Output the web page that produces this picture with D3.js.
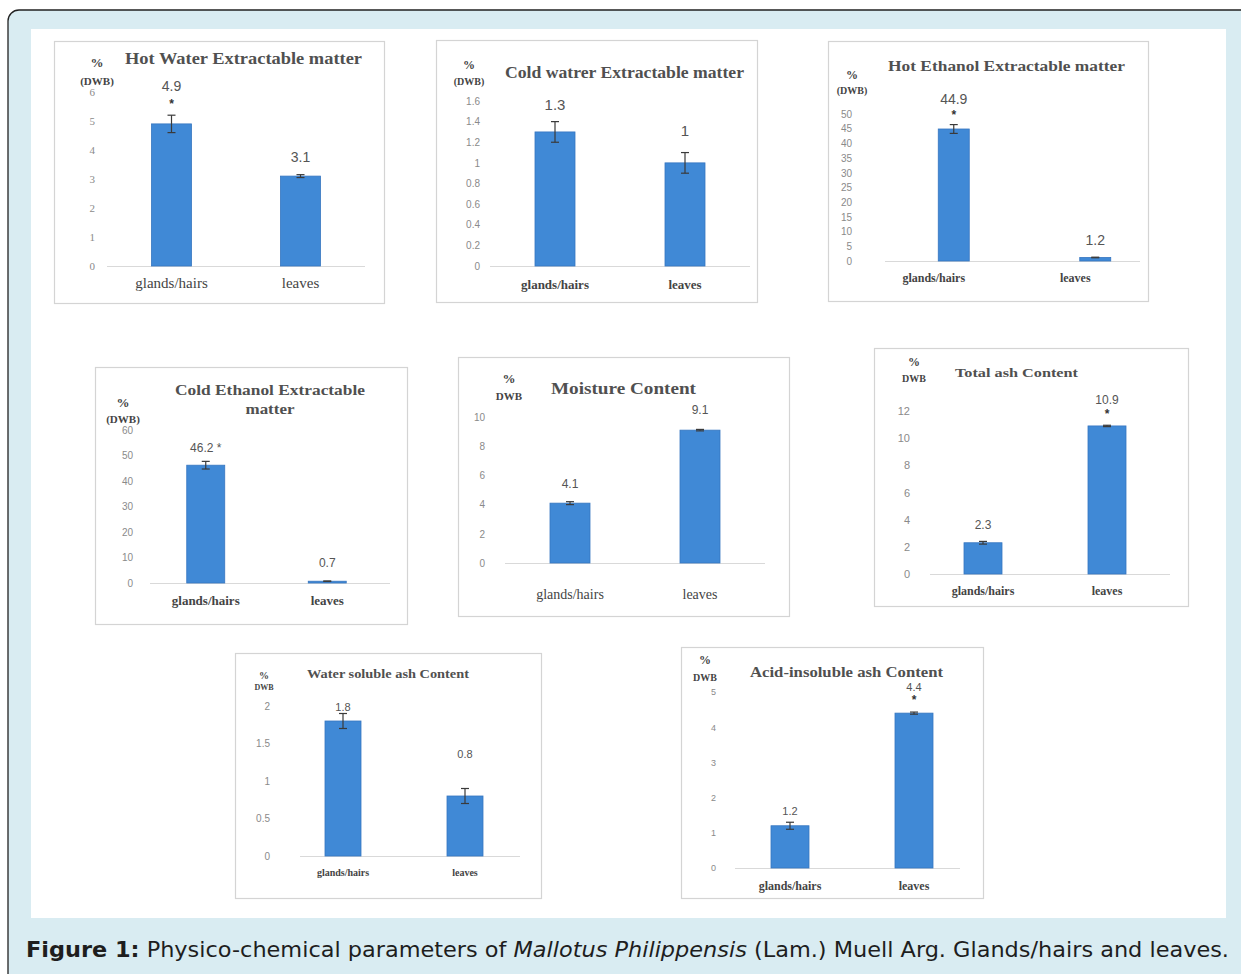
<!DOCTYPE html>
<html>
<head>
<meta charset="utf-8">
<script src="https://cdn.jsdelivr.net/npm/d3@7"></script>
<style>
  html, body { margin: 0; padding: 0; background: #ffffff; }
  svg { display: block; }
</style>
</head>
<body>
<svg id="fig" width="1241" height="974"></svg>
<script>
// ---- data -------------------------------------------------------------
const categories = ["glands/hairs", "leaves"];

const hotWaterValues = [4.9, 3.1];
const hotWaterErrors = [0.3, 0.05];
const hotWaterTicks = [0, 1, 2, 3, 4, 5, 6];

const coldWaterValues = [1.3, 1.0];
const coldWaterErrors = [0.1, 0.1];
const coldWaterTicks = [0, 0.2, 0.4, 0.6, 0.8, 1, 1.2, 1.4, 1.6];

const hotEthanolValues = [44.9, 1.2];
const hotEthanolErrors = [1.5, 0.1];
const hotEthanolTicks = [0, 5, 10, 15, 20, 25, 30, 35, 40, 45, 50];

const coldEthanolValues = [46.2, 0.7];
const coldEthanolErrors = [1.5, 0.1];
const coldEthanolTicks = [0, 10, 20, 30, 40, 50, 60];

const moistureValues = [4.1, 9.1];
const moistureErrors = [0.1, 0.05];
const moistureTicks = [0, 2, 4, 6, 8, 10];

const totalAshValues = [2.3, 10.9];
const totalAshErrors = [0.1, 0.05];
const totalAshTicks = [0, 2, 4, 6, 8, 10, 12];

const waterAshValues = [1.8, 0.8];
const waterAshErrors = [0.1, 0.1];
const waterAshTicks = [0, 0.5, 1, 1.5, 2];

const acidAshValues = [1.2, 4.4];
const acidAshErrors = [0.1, 0.03];
const acidAshTicks = [0, 1, 2, 3, 4, 5];

// value labels above bars ("*" marks significant difference)
const hotWaterLabels = ["4.9", "3.1"];
const coldWaterLabels = ["1.3", "1"];
const hotEthanolLabels = ["44.9", "1.2"];
const coldEthanolLabels = ["46.2 *", "0.7"];
const moistureLabels = ["4.1", "9.1"];
const totalAshLabels = ["2.3", "10.9"];
const waterAshLabels = ["1.8", "0.8"];
const acidAshLabels = ["1.2", "4.4"];

const hotWaterStars = [true, false];
const hotEthanolStars = [true, false];
const totalAshStars = [false, true];
const acidAshStars = [false, true];

// ---- layout of the eight panels ---------------------------------------
const panels = [
  { title: ["Hot Water Extractable matter"], titleX: 125, titleY: [64], titleW: [237], titleSize: 16,
    unitTop: "%", unitBot: "(DWB)", unitX: 97, unitY: [67, 85], unitSize: 11,
    box: [54, 41, 330, 262], y0: 266, y1: 92, axisX: 95, tickSize: 11, tickFont: "Liberation Serif",
    x0: 107, x1: 365, base: [107, 365], barW: 40,
    values: hotWaterValues, errors: hotWaterErrors, ticks: hotWaterTicks,
    labels: hotWaterLabels, stars: hotWaterStars, labelSize: 14, labelY: [91, 162], starY: [108, 0],
    catY: 288, catSize: 15, catBold: false, catShift: 0 },
  { title: ["Cold watrer Extractable matter"], titleX: 505, titleY: [78], titleW: [239], titleSize: 16,
    unitTop: "%", unitBot: "(DWB)", unitX: 469, unitY: [69, 85], unitSize: 10,
    box: [436, 40, 321, 262], y0: 266, y1: 101, axisX: 480, tickSize: 10, tickFont: "Liberation Sans",
    x0: 490, x1: 750, base: [490, 750], barW: 40,
    values: coldWaterValues, errors: coldWaterErrors, ticks: coldWaterTicks,
    labels: coldWaterLabels, stars: [false, false], labelSize: 15, labelY: [110, 136], starY: [0, 0],
    catY: 289, catSize: 13, catBold: true, catShift: 0 },
  { title: ["Hot Ethanol Extractable matter"], titleX: 888, titleY: [71], titleW: [237], titleSize: 15,
    unitTop: "%", unitBot: "(DWB)", unitX: 852, unitY: [79, 94], unitSize: 10,
    box: [828, 41, 320, 260], y0: 261, y1: 114, axisX: 852, tickSize: 10, tickFont: "Liberation Sans",
    x0: 883, x1: 1166, base: [885, 1140], barW: 31,
    values: hotEthanolValues, errors: hotEthanolErrors, ticks: hotEthanolTicks,
    labels: hotEthanolLabels, stars: hotEthanolStars, labelSize: 14, labelY: [104, 245], starY: [119, 0],
    catY: 282, catSize: 12, catBold: true, catShift: -20 },
  { title: ["Cold Ethanol Extractable", "matter"], titleX: 270, titleY: [395, 414], titleW: [190, 49], titleSize: 15,
    unitTop: "%", unitBot: "(DWB)", unitX: 123, unitY: [407, 423], unitSize: 11,
    box: [95, 367, 312, 257], y0: 583, y1: 430, axisX: 133, tickSize: 10, tickFont: "Liberation Sans",
    x0: 145, x1: 388, base: [150, 390], barW: 38,
    values: coldEthanolValues, errors: coldEthanolErrors, ticks: coldEthanolTicks,
    labels: coldEthanolLabels, stars: [false, false], labelSize: 12, labelY: [452, 567], starY: [0, 0],
    catY: 605, catSize: 13, catBold: true, catShift: 0 },
  { title: ["Moisture Content"], titleX: 551, titleY: [394], titleW: [145], titleSize: 17,
    unitTop: "%", unitBot: "DWB", unitX: 509, unitY: [383, 400], unitSize: 11,
    box: [458, 357, 331, 259], y0: 563, y1: 417, axisX: 485, tickSize: 10, tickFont: "Liberation Sans",
    x0: 505, x1: 765, base: [505, 765], barW: 40,
    values: moistureValues, errors: moistureErrors, ticks: moistureTicks,
    labels: moistureLabels, stars: [false, false], labelSize: 12, labelY: [488, 414], starY: [0, 0],
    catY: 599, catSize: 14, catBold: false, catShift: 0 },
  { title: ["Total ash Content"], titleX: 955, titleY: [377], titleW: [123], titleSize: 13,
    unitTop: "%", unitBot: "DWB", unitX: 914, unitY: [366, 382], unitSize: 10,
    box: [874, 348, 314, 258], y0: 574, y1: 411, axisX: 910, tickSize: 11, tickFont: "Liberation Sans",
    x0: 921, x1: 1169, base: [930, 1170], barW: 38,
    values: totalAshValues, errors: totalAshErrors, ticks: totalAshTicks,
    labels: totalAshLabels, stars: totalAshStars, labelSize: 12, labelY: [529, 404], starY: [0, 418],
    catY: 595, catSize: 12, catBold: true, catShift: 0 },
  { title: ["Water soluble ash Content"], titleX: 307, titleY: [678], titleW: [162], titleSize: 12,
    unitTop: "%", unitBot: "DWB", unitX: 264, unitY: [679, 690], unitSize: 8,
    box: [235, 653, 306, 245], y0: 856, y1: 706, axisX: 270, tickSize: 10, tickFont: "Liberation Sans",
    x0: 282, x1: 526, base: [300, 520], barW: 36,
    values: waterAshValues, errors: waterAshErrors, ticks: waterAshTicks,
    labels: waterAshLabels, stars: [false, false], labelSize: 11, labelY: [711, 758], starY: [0, 0],
    catY: 876, catSize: 10, catBold: true, catShift: 0 },
  { title: ["Acid-insoluble ash Content"], titleX: 750, titleY: [677], titleW: [193], titleSize: 14,
    unitTop: "%", unitBot: "DWB", unitX: 705, unitY: [664, 681], unitSize: 10,
    box: [681, 647, 302, 251], y0: 868, y1: 692, axisX: 716, tickSize: 9, tickFont: "Liberation Sans",
    x0: 728, x1: 976, base: [735, 960], barW: 38,
    values: acidAshValues, errors: acidAshErrors, ticks: acidAshTicks,
    labels: acidAshLabels, stars: acidAshStars, labelSize: 11, labelY: [815, 691], starY: [0, 704],
    catY: 890, catSize: 12, catBold: true, catShift: 0 }
];

// ---- drawing -----------------------------------------------------------
const svg = d3.select("#fig");
const BAR = "#4089d6";

// page frame: light blue card with a rounded dark border
svg.append("rect")
  .attr("x", 8).attr("y", 10).attr("width", 1260).attr("height", 990)
  .attr("rx", 11).attr("ry", 11)
  .attr("fill", "#d9ecf2").attr("stroke", "#222").attr("stroke-width", 1.3);

// white figure area
svg.append("rect")
  .attr("x", 31).attr("y", 29).attr("width", 1195).attr("height", 889)
  .attr("fill", "#ffffff");

panels.forEach(p => {
  const g = svg.append("g");

  // panel box
  g.append("rect")
    .attr("x", p.box[0] + 0.5).attr("y", p.box[1] + 0.5)
    .attr("width", p.box[2]).attr("height", p.box[3])
    .attr("fill", "#ffffff").attr("stroke", "#d4d4d4").attr("stroke-width", 1.2);

  const y = d3.scaleLinear()
    .domain([0, d3.max(p.ticks)])
    .range([p.y0, p.y1]);
  const x = d3.scalePoint()
    .domain(categories)
    .range([p.x0, p.x1])
    .padding(0.5);

  // value axis (labels only)
  const yAxis = d3.axisLeft(y).tickValues(p.ticks).tickSize(0).tickPadding(0)
    .tickFormat(d3.format("~g"));
  const ag = g.append("g").attr("transform", `translate(${p.axisX},0)`).call(yAxis);
  ag.select(".domain").remove();
  ag.selectAll("text")
    .attr("fill", "#8a8a8a")
    .attr("font-family", p.tickFont)
    .attr("font-size", p.tickSize);

  // baseline
  g.append("line")
    .attr("x1", p.base[0]).attr("x2", p.base[1])
    .attr("y1", y(0) + 0.5).attr("y2", y(0) + 0.5)
    .attr("stroke", "#d9d9d9").attr("stroke-width", 1);

  // bars
  g.selectAll("rect.bar")
    .data(categories)
    .join("rect")
    .attr("class", "bar")
    .attr("x", d => x(d) - p.barW / 2)
    .attr("width", p.barW)
    .attr("y", (d, i) => y(p.values[i]))
    .attr("height", (d, i) => y(0) - y(p.values[i]))
    .attr("fill", BAR)
    .attr("stroke", "#3676c0").attr("stroke-width", 0.8);

  // error bars
  const eb = g.selectAll("g.err")
    .data(categories)
    .join("g").attr("class", "err")
    .attr("stroke", "#3a3a3a").attr("stroke-width", 1.2);
  eb.append("line")
    .attr("x1", d => x(d)).attr("x2", d => x(d))
    .attr("y1", (d, i) => y(p.values[i] + p.errors[i]))
    .attr("y2", (d, i) => y(p.values[i] - p.errors[i]));
  eb.append("line")
    .attr("x1", d => x(d) - 4).attr("x2", d => x(d) + 4)
    .attr("y1", (d, i) => y(p.values[i] + p.errors[i]))
    .attr("y2", (d, i) => y(p.values[i] + p.errors[i]));
  eb.append("line")
    .attr("x1", d => x(d) - 4).attr("x2", d => x(d) + 4)
    .attr("y1", (d, i) => y(p.values[i] - p.errors[i]))
    .attr("y2", (d, i) => y(p.values[i] - p.errors[i]));

  // value labels
  g.selectAll("text.val")
    .data(categories)
    .join("text").attr("class", "val")
    .attr("x", d => x(d))
    .attr("y", (d, i) => p.labelY[i])
    .attr("text-anchor", "middle")
    .attr("font-family", "Liberation Sans, Arial, sans-serif")
    .attr("font-size", p.labelSize)
    .attr("fill", "#555")
    .text((d, i) => p.labels[i]);

  // significance stars
  g.selectAll("text.star")
    .data(categories.filter((d, i) => p.stars[i]))
    .join("text").attr("class", "star")
    .attr("x", d => x(d))
    .attr("y", d => p.starY[categories.indexOf(d)])
    .attr("text-anchor", "middle")
    .attr("font-family", "Liberation Sans, Arial, sans-serif")
    .attr("font-size", 12)
    .attr("font-weight", "bold")
    .attr("fill", "#333")
    .text("*");

  // category labels
  g.selectAll("text.cat")
    .data(categories)
    .join("text").attr("class", "cat")
    .attr("x", d => x(d) + p.catShift)
    .attr("y", p.catY)
    .attr("text-anchor", "middle")
    .attr("font-family", "Liberation Serif, Times New Roman, serif")
    .attr("font-size", p.catSize)
    .attr("font-weight", p.catBold ? "bold" : "normal")
    .attr("fill", "#444")
    .text(d => d);

  // panel title
  p.title.forEach((t, k) => {
    const single = p.title.length === 1;
    g.append("text")
      .attr("x", p.titleX)
      .attr("y", p.titleY[k])
      .attr("text-anchor", single ? "start" : "middle")
      .attr("font-family", "Liberation Serif, Times New Roman, serif")
      .attr("font-size", p.titleSize)
      .attr("font-weight", "bold")
      .attr("fill", "#505050")
      .attr("textLength", p.titleW[k])
      .attr("lengthAdjust", "spacingAndGlyphs")
      .text(t);
  });

  // unit label
  g.append("text")
    .attr("x", p.unitX).attr("y", p.unitY[0])
    .attr("text-anchor", "middle")
    .attr("font-family", "Liberation Serif, Times New Roman, serif")
    .attr("font-size", p.unitSize + 2).attr("font-weight", "bold")
    .attr("fill", "#444").text(p.unitTop);
  g.append("text")
    .attr("x", p.unitX).attr("y", p.unitY[1])
    .attr("text-anchor", "middle")
    .attr("font-family", "Liberation Serif, Times New Roman, serif")
    .attr("font-size", p.unitSize).attr("font-weight", "bold")
    .attr("fill", "#444").text(p.unitBot);
});

// figure caption
const cap = svg.append("text")
  .attr("x", 26).attr("y", 957)
  .attr("font-family", "DejaVu Sans Condensed, Noto Sans, sans-serif")
  .attr("font-size", 21)
  .attr("fill", "#1e1e1e")
  .attr("textLength", 1203)
  .attr("lengthAdjust", "spacingAndGlyphs");
cap.append("tspan").attr("font-weight", "bold").text("Figure 1:");
cap.append("tspan").text(" Physico-chemical parameters of ");
cap.append("tspan").attr("font-style", "italic").text("Mallotus Philippensis");
cap.append("tspan").text(" (Lam.) Muell Arg. Glands/hairs and leaves.");
</script>
</body>
</html>
